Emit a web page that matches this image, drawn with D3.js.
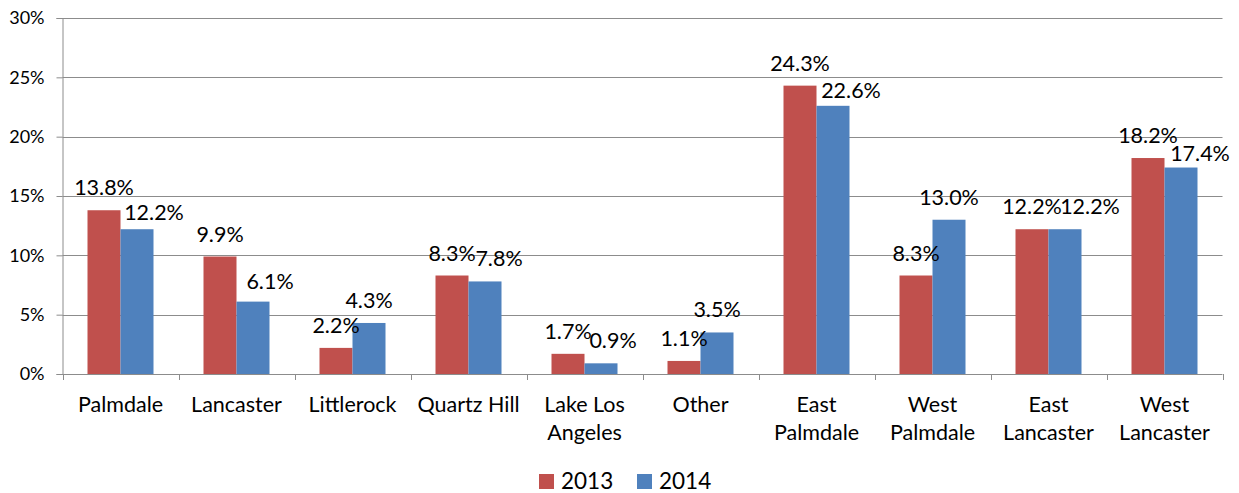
<!DOCTYPE html>
<html>
<head>
<meta charset="utf-8">
<script src="https://cdn.jsdelivr.net/npm/d3@7"></script>
<style>
  body { margin: 0; background: #fff; }
  svg text { font-family: Lato, "Open Sans", sans-serif; fill: #000; }
</style>
</head>
<body>
<svg id="chart" width="1239" height="493"></svg>
<script>
// categories and values (percent)
var categories = ["Palmdale", "Lancaster", "Littlerock", "Quartz Hill", "Lake Los Angeles",
                  "Other", "East Palmdale", "West Palmdale", "East Lancaster", "West Lancaster"];
var categoryLines = [["Palmdale"], ["Lancaster"], ["Littlerock"], ["Quartz Hill"], ["Lake Los", "Angeles"],
                     ["Other"], ["East", "Palmdale"], ["West", "Palmdale"], ["East", "Lancaster"], ["West", "Lancaster"]];
var series = ["2013", "2014"];
var values2013 = [13.8, 9.9, 2.2, 8.3, 1.7, 1.1, 24.3, 8.3, 12.2, 18.2];
var values2014 = [12.2, 6.1, 4.3, 7.8, 0.9, 3.5, 22.6, 13.0, 12.2, 17.4];
var yTicks = [0, 5, 10, 15, 20, 25, 30];

// label nudges (layout only), as placed by hand in the original
var nudge2014 = [[17, 6], [17, 2], [0, 0], [14, 0], [12, 0], [0, 0], [18, 7], [0, 0], [25, 0], [19, 8]];

var colors = {"2013": "#C0504D", "2014": "#4F81BD"};

var margin = {left: 62.5, right: 16.5, top: 18, bottom: 119};
var width = 1239, height = 493;
var bigFont = "21.5px";

var svg = d3.select("#chart");

var x0 = d3.scaleBand()
  .domain(categories)
  .range([margin.left, width - margin.right])
  .padding(0);

var groupW = 66;
var x1 = d3.scaleBand()
  .domain(series)
  .range([0, groupW]);

var y = d3.scaleLinear()
  .domain([0, 30])
  .range([height - margin.bottom, margin.top]);

// gridlines
svg.append("g")
  .selectAll("line")
  .data(yTicks.filter(function(d) { return d > 0; }))
  .enter()
    .append("line")
      .attr("x1", margin.left)
      .attr("x2", width - margin.right)
      .attr("y1", function(d) { return Math.round(y(d)) + 0.5; })
      .attr("y2", function(d) { return Math.round(y(d)) + 0.5; })
      .attr("stroke", "#8c8c8c")
      .attr("stroke-width", 1);

// y axis
var yAxis = svg.append("g")
  .attr("transform", "translate(" + margin.left + ",0)")
  .call(d3.axisLeft(y).tickValues(yTicks).tickFormat(function(d) { return d + "%"; })
        .tickSize(6).tickPadding(12));
yAxis.selectAll("path, line").attr("stroke", "#8c8c8c");
yAxis.selectAll("text").style("font-size", "18px").attr("fill", "#000");

// bars
var rows = categories.map(function(c, i) {
  return {cat: c, i: i, vals: [{s: "2013", v: values2013[i]}, {s: "2014", v: values2014[i]}]};
});

var groups = svg.append("g")
  .selectAll("g")
  .data(rows)
  .enter()
    .append("g")
      .attr("transform", function(d) {
        return "translate(" + (x0(d.cat) + (x0.bandwidth() - groupW) / 2) + ",0)";
      });

groups.selectAll("rect")
  .data(function(d) { return d.vals; })
  .enter()
    .append("rect")
      .attr("x", function(d) { return x1(d.s); })
      .attr("width", x1.bandwidth())
      .attr("y", function(d) { return y(d.v); })
      .attr("height", function(d) { return y(0) - y(d.v); })
      .attr("fill", function(d) { return colors[d.s]; });

// x axis
var xAxis = svg.append("g")
  .attr("transform", "translate(0," + (height - margin.bottom) + ")");
xAxis.append("line")
  .attr("x1", margin.left).attr("x2", width - margin.right)
  .attr("y1", 0.5).attr("y2", 0.5)
  .attr("stroke", "#8c8c8c");
xAxis.selectAll(".tick")
  .data(categories.concat(["end"]))
  .enter()
    .append("line")
      .attr("x1", function(d, i) { return Math.round(margin.left + i * x0.step()) + 0.5; })
      .attr("x2", function(d, i) { return Math.round(margin.left + i * x0.step()) + 0.5; })
      .attr("y1", 0).attr("y2", 6)
      .attr("stroke", "#8c8c8c");

xAxis.selectAll(".cat")
  .data(categoryLines)
  .enter()
    .append("text")
      .attr("class", "cat")
      .attr("text-anchor", "middle")
      .style("font-size", bigFont)
      .attr("transform", function(d, i) {
        return "translate(" + (x0(categories[i]) + x0.bandwidth() / 2) + ",38)";
      })
      .selectAll("tspan")
      .data(function(d) { return d; })
      .enter()
        .append("tspan")
          .attr("x", 0)
          .attr("y", function(d, j) { return j * 28; })
          .text(function(d) { return d; });

// data labels
groups.selectAll(".lbl")
  .data(function(d) {
    return d.vals.map(function(v) { return {s: v.s, v: v.v, i: d.i}; });
  })
  .enter()
    .append("text")
      .attr("class", "lbl")
      .attr("text-anchor", "middle")
      .style("font-size", bigFont)
      .attr("x", function(d) {
        var dx = d.s === "2014" ? nudge2014[d.i][0] : 0;
        return x1(d.s) + x1.bandwidth() / 2 + dx;
      })
      .attr("y", function(d) {
        var dy = d.s === "2014" ? nudge2014[d.i][1] : 0;
        return y(d.v) - 15 + dy;
      })
      .text(function(d) { return d.v.toFixed(1) + "%"; });

// legend
var legend = svg.append("g")
  .attr("transform", "translate(539,489)");
var items = legend.selectAll("g")
  .data(series)
  .enter()
    .append("g")
      .attr("transform", function(d, i) { return "translate(" + (i * 98) + ",0)"; });
items.append("rect")
  .attr("x", 0).attr("y", -15)
  .attr("width", 15).attr("height", 15)
  .attr("fill", function(d) { return colors[d]; });
items.append("text")
  .attr("x", 22).attr("y", 0)
  .style("font-size", "22.5px")
  .text(function(d) { return d; });
</script>
</body>
</html>
